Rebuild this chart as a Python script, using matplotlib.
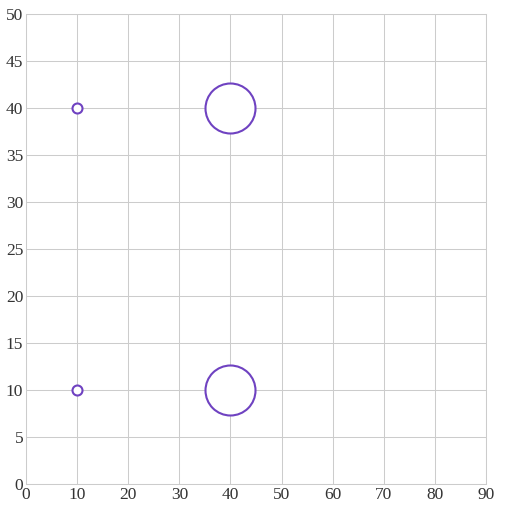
import matplotlib
matplotlib.use("Agg")
import matplotlib.pyplot as plt

x_vals = [10, 10, 40, 40]
y_vals = [40, 10, 40, 10]
sizes = [1, 1, 5, 5]  # relative bubble sizes

x_ticks = [0, 10, 20, 30, 40, 50, 60, 70, 80, 90]
y_ticks = [0, 5, 10, 15, 20, 25, 30, 35, 40, 45, 50]

purple = "#6f42c1"
grid_c = "#cccccc"

plt.rcParams['font.family'] = ['Liberation Serif', 'DejaVu Serif']

fig = plt.figure(figsize=(5.06, 5.12), dpi=100)
ax = fig.add_axes([26/506, 28/512, 460/506, 470/512])
ax.set_xlim(0, 90)
ax.set_ylim(0, 50)
ax.set_xticks(x_ticks)
ax.set_yticks(y_ticks)
ax.grid(True, color=grid_c, linewidth=0.75)
ax.set_axisbelow(True)
for s in ax.spines.values():
    s.set_color(grid_c)
    s.set_linewidth(0.75)
ax.tick_params(length=0, labelsize=12.5, labelcolor="#333333", pad=2)

base = 7.2  # marker diameter in points per unit size
for xv, yv, sv in zip(x_vals, y_vals, sizes):
    ax.plot([xv], [yv], marker='o', linestyle='none', markersize=base * sv,
            markerfacecolor='white', markeredgecolor=purple, markeredgewidth=1.5,
            clip_on=False, zorder=3)

fig.savefig("out.png", dpi=100)
